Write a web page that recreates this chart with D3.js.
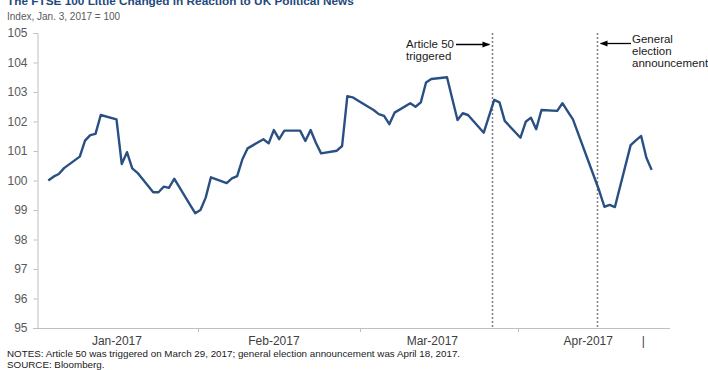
<!DOCTYPE html>
<html><head><meta charset="utf-8">
<script src="https://cdn.jsdelivr.net/npm/d3@7"></script>
<style>body{margin:0;background:#fff}svg{display:block;font-family:"Liberation Sans",Arial,sans-serif}</style>
</head><body><svg id="c" width="708" height="370"></svg>
<script>
const dates = ["2017-01-03","2017-01-04","2017-01-05","2017-01-06","2017-01-09","2017-01-10","2017-01-11","2017-01-12","2017-01-13","2017-01-16","2017-01-17","2017-01-18","2017-01-19","2017-01-20","2017-01-23","2017-01-24","2017-01-25","2017-01-26","2017-01-27","2017-01-30","2017-01-31",
"2017-02-01","2017-02-02","2017-02-03","2017-02-06","2017-02-07","2017-02-08","2017-02-09","2017-02-10","2017-02-13","2017-02-14","2017-02-15","2017-02-16","2017-02-17","2017-02-20","2017-02-21","2017-02-22","2017-02-23","2017-02-24","2017-02-27","2017-02-28",
"2017-03-01","2017-03-02","2017-03-03","2017-03-06","2017-03-07","2017-03-08","2017-03-09","2017-03-10","2017-03-13","2017-03-14","2017-03-15","2017-03-16","2017-03-17","2017-03-20","2017-03-21","2017-03-22","2017-03-23","2017-03-24","2017-03-27","2017-03-28","2017-03-29","2017-03-30","2017-03-31",
"2017-04-03","2017-04-04","2017-04-05","2017-04-06","2017-04-07","2017-04-10","2017-04-11","2017-04-12","2017-04-13","2017-04-18","2017-04-19","2017-04-20","2017-04-21","2017-04-24","2017-04-25","2017-04-26","2017-04-27","2017-04-28"];
const values = [100.0,100.13,100.22,100.42,100.81,101.35,101.54,101.58,102.22,102.07,100.56,100.96,100.41,100.26,99.60,99.60,99.79,99.75,100.06,99.18,98.89,
99.00,99.42,100.11,99.91,100.07,100.15,100.72,101.09,101.40,101.26,101.71,101.40,101.69,101.69,101.34,101.71,101.28,100.92,101.01,101.17,
102.86,102.82,102.71,102.39,102.25,102.19,101.91,102.30,102.62,102.50,102.65,103.32,103.44,103.50,102.77,102.05,102.28,102.22,101.62,102.18,102.73,102.65,102.02,
101.45,101.99,102.13,101.74,102.39,102.36,102.62,102.34,102.07,99.66,99.11,99.17,99.10,101.20,101.36,101.51,100.77,100.36];
const yTicks = [95,96,97,98,99,100,101,102,103,104,105];
const xTickDates = ["2017-01-31T12:00","2017-03-03T10:00","2017-04-02T12:00"];
const xLabels = ["Jan-2017","Feb-2017","Mar-2017","Apr-2017","|"];
const xLabelDates = ["2017-01-16T02:00","2017-02-15T00:00","2017-03-17T05:00","2017-04-15T22:00","2017-04-26T10:00"];
const events = [{date:"2017-03-29", lines:["Article 50","triggered"], side:"left"},
                {date:"2017-04-18", lines:["General","election","announcement"], side:"right"}];
const title = "The FTSE 100 Little Changed in Reaction to UK Political News";
const subtitle = "Index, Jan. 3, 2017 = 100";
const notes = ["NOTES: Article 50 was triggered on March 29, 2017; general election announcement was April 18, 2017.","SOURCE: Bloomberg."];

const parse = s => new Date(s.length>10 ? s : s+"T00:00");
const svg = d3.select("#c");
const x = d3.scaleTime().domain([parse("2017-01-01"), parse("2017-05-01T12:00")]).range([37.8, 670]);
const y = d3.scaleLinear().domain([95,105]).range([328,33]);
const axisCol = "#bfbfbf", txtCol = "#595959";

svg.append("defs").append("marker").attr("id","ah").attr("viewBox","0 0 10 10").attr("refX",9).attr("refY",5)
  .attr("markerWidth",6).attr("markerHeight",6).attr("orient","auto-start-reverse")
  .append("path").attr("d","M0,1 L10,5 L0,9 z").attr("fill","#000");

// title & subtitle
svg.append("text").attr("x",7).attr("y",5).attr("font-size",11.8).attr("font-weight","bold").attr("fill","#1f497d").text(title);
svg.append("text").attr("x",7).attr("y",20).attr("font-size",10).attr("fill",txtCol).text(subtitle);

// y axis
const ya = svg.append("g").attr("transform","translate(37.5,0)")
  .call(d3.axisLeft(y).tickValues(yTicks).tickSize(4).tickPadding(6).tickFormat(d3.format("d")));
ya.select(".domain").attr("stroke",axisCol);
ya.selectAll(".tick line").attr("stroke",axisCol);
ya.selectAll("text").attr("font-size",12).attr("fill",txtCol).attr("font-family","'Liberation Sans',Arial,sans-serif");

// x axis
svg.append("line").attr("x1",37.5).attr("x2",670).attr("y1",328.5).attr("y2",328.5).attr("stroke",axisCol);
svg.append("line").attr("x1",33).attr("x2",37.5).attr("y1",328.5).attr("y2",328.5).attr("stroke",axisCol);
svg.selectAll(".xt").data(xTickDates).join("line").attr("class","xt")
  .attr("x1",d=>Math.round(x(parse(d)))+0.5).attr("x2",d=>Math.round(x(parse(d)))+0.5)
  .attr("y1",328.5).attr("y2",332).attr("stroke",axisCol);
svg.selectAll(".xl").data(xLabels).join("text").attr("class","xl")
  .attr("x",(d,i)=>x(parse(xLabelDates[i]))).attr("y",345).attr("text-anchor","middle")
  .attr("font-size",12).attr("fill","#404040").text(d=>d);

// event dashed lines & annotations
events.forEach(e=>{
  const ex = Math.round(x(parse(e.date)))-1.5;
  svg.append("line").attr("x1",ex).attr("x2",ex).attr("y1",y(105)).attr("y2",y(95))
    .attr("stroke","#7f7f7f").attr("stroke-width",1.5).attr("stroke-dasharray","2,2");
  if(e.side==="left"){
    const g = svg.append("text").attr("x",406).attr("y",48).attr("font-size",11.5).attr("fill","#1a1a1a");
    e.lines.forEach((l,i)=>g.append("tspan").attr("x",406).attr("dy",i?12:0).text(l));
    svg.append("line").attr("x1",456).attr("x2",ex-3).attr("y1",44.5).attr("y2",44.5)
      .attr("stroke","#000").attr("stroke-width",1.3).attr("marker-end","url(#ah)");
  } else {
    const g = svg.append("text").attr("x",632).attr("y",43).attr("font-size",11.5).attr("fill","#1a1a1a");
    e.lines.forEach((l,i)=>g.append("tspan").attr("x",632).attr("dy",i?12:0).text(l));
    svg.append("line").attr("x1",631).attr("x2",ex+3).attr("y1",43.5).attr("y2",43.5)
      .attr("stroke","#000").attr("stroke-width",1.3).attr("marker-end","url(#ah)");
  }
});

// data line
const data = dates.map((d,i)=>({d:parse(d), v:values[i]}));
svg.append("path").datum(data).attr("fill","none").attr("stroke","#2a5083").attr("stroke-width",2.4)
  .attr("stroke-linejoin","round")
  .attr("d", d3.line().x(p=>x(p.d)).y(p=>y(p.v)));

// notes
notes.forEach((n,i)=>svg.append("text").attr("x",7).attr("y",357+i*11).attr("font-size",9.8).attr("fill","#1a1a1a").text(n));
</script></body></html>
